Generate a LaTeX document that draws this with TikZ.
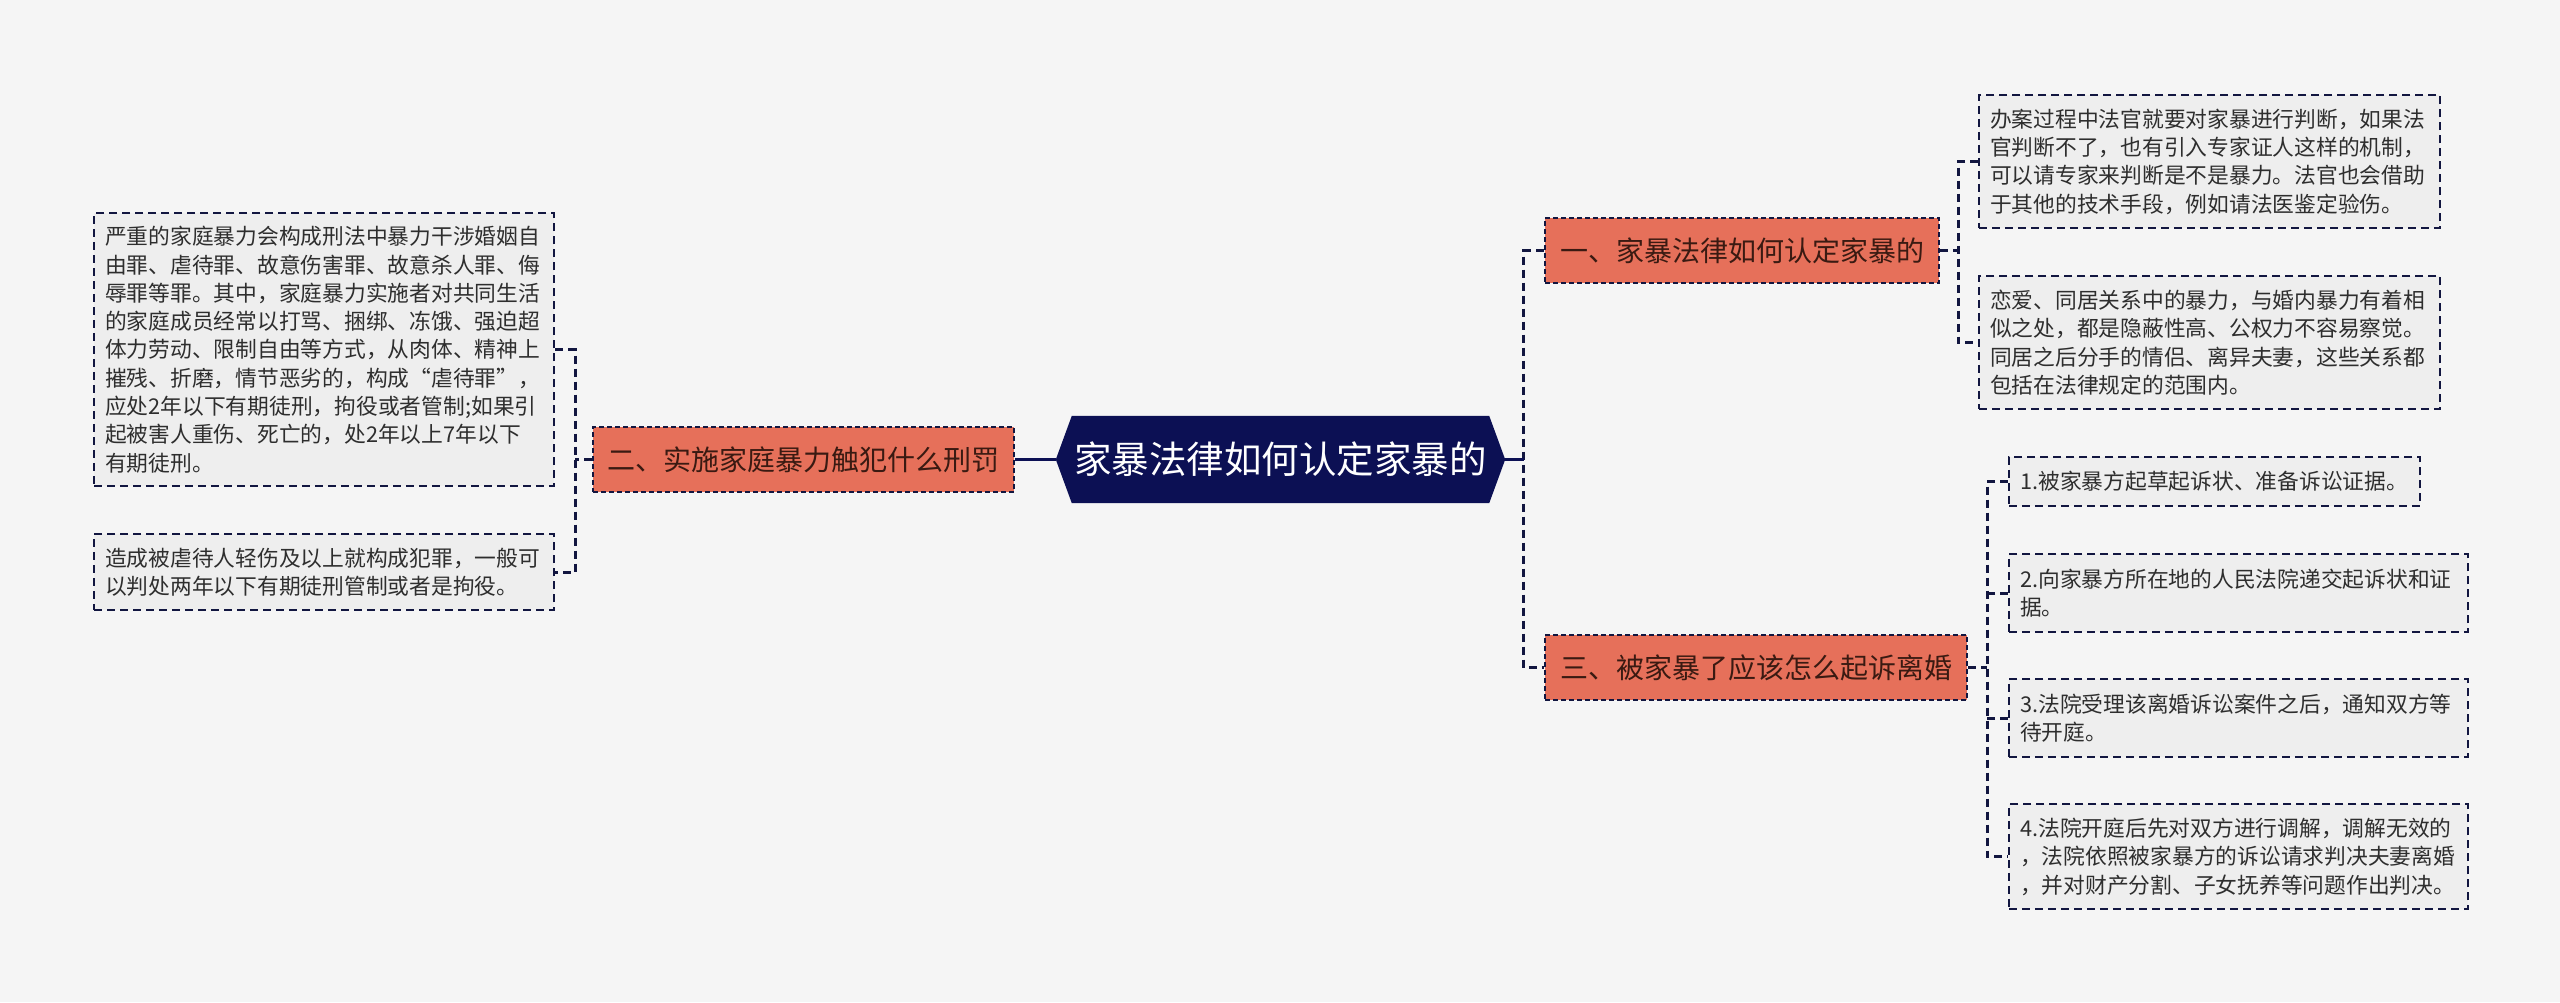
\documentclass[tikz,border=0pt]{standalone}
\usepackage{fontspec}
\setmainfont{Noto Sans CJK SC}
\usetikzlibrary{calc}
\definecolor{pagebg}{HTML}{F5F5F5}
\definecolor{hubnavy}{HTML}{0C1054}
\definecolor{topicfill}{HTML}{E6705A}
\definecolor{topictext}{HTML}{3A1A12}
\definecolor{dashcol}{HTML}{121640}
\definecolor{boxfill}{HTML}{EEEEEE}
\definecolor{leaftext}{HTML}{2E2E2E}
\pgfdeclarelayer{bg}
\pgfsetlayers{bg,main}
\tikzset{
  hub/.style={text=white, font=\fontsize{37.5pt}{40pt}\selectfont, minimum width=449pt, minimum height=87pt, inner sep=0pt},
  topic/.style={fill=topicfill, draw=dashcol, line width=2.5pt, dash pattern=on 5pt off 3pt, text=topictext, font=\fontsize{28pt}{32pt}\selectfont, minimum height=65pt, inner sep=0pt},
  leaf/.style={fill=boxfill, draw=dashcol, line width=2.3pt, dash pattern=on 8pt off 5pt, text=leaftext, font=\fontsize{21.75pt}{28.3pt}\selectfont, align=left, inner xsep=11pt, inner ysep=0pt, anchor=north west},
  conn/.style={draw=dashcol, line width=3pt, dash pattern=on 8pt off 5pt},
  link/.style={draw=hubnavy, line width=3.5pt},
}
\begin{document}
\begin{tikzpicture}[x=1pt,y=-1pt]
\begin{pgfonlayer}{bg}
\fill[pagebg] (0,0) rectangle (2560,1002);
\end{pgfonlayer}
\useasboundingbox (0,0) rectangle (2560,1002);

% hub
\node[hub] (c) at (1280.5,459.5) {家暴法律如何认定家暴的};
\begin{pgfonlayer}{bg}
\fill[hubnavy] ([xshift=16pt]c.north west) -- ([xshift=-16pt]c.north east) -- (c.east) -- ([xshift=-16pt]c.south east) -- ([xshift=16pt]c.south west) -- (c.west) -- cycle;
\end{pgfonlayer}

% topics
\node[topic, minimum width=394pt] (n1) at (1742,250.5) {一、家暴法律如何认定家暴的};
\node[topic, minimum width=421pt] (n2) at (803.5,459.5) {二、实施家庭暴力触犯什么刑罚};
\node[topic, minimum width=422pt] (n3) at (1756,667.5) {三、被家暴了应该怎么起诉离婚};

% left leaves
\node[leaf, text width=438pt, minimum height=273pt] (L1) at (93,212) {严重的家庭暴力会构成刑法中暴力干涉婚姻自\\由罪、虐待罪、故意伤害罪、故意杀人罪、侮\\辱罪等罪。其中，家庭暴力实施者对共同生活\\的家庭成员经常以打骂、捆绑、冻饿、强迫超\\体力劳动、限制自由等方式，从肉体、精神上\\摧残、折磨，情节恶劣的，构成“虐待罪”，\\应处2年以下有期徒刑，拘役或者管制;如果引\\起被害人重伤、死亡的，处2年以上7年以下\\有期徒刑。};
\node[leaf, text width=438pt, minimum height=76pt] (L2) at (93,533) {造成被虐待人轻伤及以上就构成犯罪，一般可\\以判处两年以下有期徒刑管制或者是拘役。};

% right upper leaves
\node[leaf, text width=439pt, minimum height=133pt] (R1) at (1978,94) {办案过程中法官就要对家暴进行判断，如果法\\官判断不了，也有引入专家证人这样的机制，\\可以请专家来判断是不是暴力。法官也会借助\\于其他的技术手段，例如请法医鉴定验伤。};
\node[leaf, text width=439pt, minimum height=133pt] (R2) at (1978,275) {恋爱、同居关系中的暴力，与婚内暴力有着相\\似之处，都是隐蔽性高、公权力不容易察觉。\\同居之后分手的情侣、离异夫妻，这些关系都\\包括在法律规定的范围内。};

% right lower leaves
\node[leaf, text width=389pt, minimum height=49pt] (S1) at (2008,456) {1.被家暴方起草起诉状、准备诉讼证据。};
\node[leaf, text width=437pt, minimum height=78pt] (S2) at (2008,553) {2.向家暴方所在地的人民法院递交起诉状和证\\据。};
\node[leaf, text width=437pt, minimum height=78pt] (S3) at (2008,678) {3.法院受理该离婚诉讼案件之后，通知双方等\\待开庭。};
\node[leaf, text width=437pt, minimum height=105pt] (S4) at (2008,803) {4.法院开庭后先对双方进行调解，调解无效的\\，法院依照被家暴方的诉讼请求判决夫妻离婚\\，并对财产分割、子女抚养等问题作出判决。};

% connectors
\draw[link] (c.west) -- (n2.east);
\draw[conn] (L1.east) -- ++(20,0) coordinate (lb) |- (L2.east);
\draw[conn] (n2.west) -- (n2.west -| lb);

\draw[conn] (n1.west) -- ++(-20,0) coordinate (ra) |- (n3.west);
\draw[link] (c.east) -- (c.east -| ra);

\draw[conn] (R1.west) -- ++(-20,0) coordinate (rb) |- (R2.west);
\draw[conn] (n1.east) -- (n1.east -| rb);

\draw[conn] (S1.west) -- ++(-21,0) coordinate (sb) |- (S4.west);
\draw[conn] (S2.west) -- (S2.west -| sb);
\draw[conn] (S3.west) -- (S3.west -| sb);
\draw[conn] (n3.east) -- (n3.east -| sb);
\end{tikzpicture}
\end{document}
